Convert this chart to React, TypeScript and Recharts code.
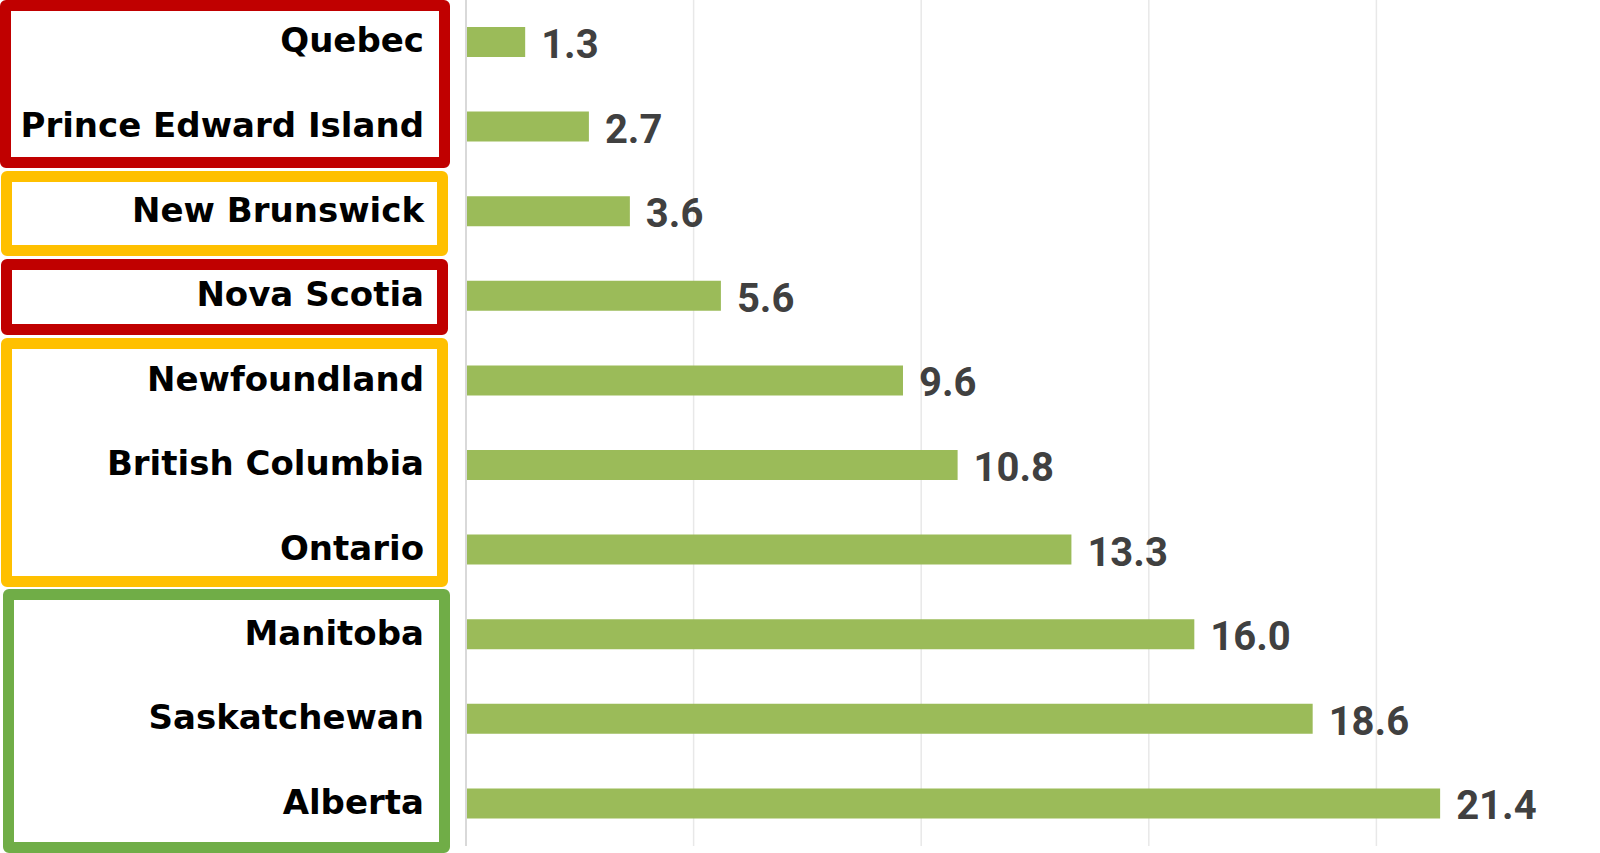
import React from "react";
import { BarChart, Bar, XAxis, YAxis, CartesianGrid, LabelList } from "recharts";

const provinces = [
  "Quebec",
  "Prince Edward Island",
  "New Brunswick",
  "Nova Scotia",
  "Newfoundland",
  "British Columbia",
  "Ontario",
  "Manitoba",
  "Saskatchewan",
  "Alberta",
];
const values = [1.3, 2.7, 3.6, 5.6, 9.6, 10.8, 13.3, 16.0, 18.6, 21.4];
const xTicks = [0, 5, 10, 15, 20, 25];

// Highlight boxes around groups of category labels
const boxColors = ["#C00000", "#FFC000", "#C00000", "#FFC000", "#70AD47"];
const boxTops = [0, 171, 259, 338, 589];
const boxBottoms = [168, 256, 335, 587, 853];
const boxLefts = [0, 1, 1, 1, 3];
const boxRights = [450, 448, 448, 448, 450];

const data = provinces.map((name, i) => ({ name, value: values[i] }));

const CategoryTick = (props: any) => {
  const { x, y, payload } = props;
  return (
    <text
      x={x}
      y={y + 10}
      textAnchor="end"
      fill="#000000"
      fontFamily="DejaVu Sans"
      fontWeight={700}
      fontSize={34}
    >
      {payload.value}
    </text>
  );
};

const ValueLabel = (props: any) => {
  const { x, y, width, height, value } = props;
  return (
    <text
      x={x + width + 16}
      y={y + height / 2 + 16}
      textAnchor="start"
      fill="#404040"
      fontFamily="Roboto"
      fontWeight={700}
      fontSize={40}
    >
      {Number(value).toFixed(1)}
    </text>
  );
};

export default function App() {
  return (
    <div
      style={{
        position: "absolute",
        left: 0,
        top: 0,
        width: 1600,
        height: 853,
        overflow: "hidden",
        background: "#ffffff",
      }}
    >
      <BarChart
        width={1604}
        height={853}
        data={data}
        layout="vertical"
        margin={{ top: 0, right: 0, bottom: 7, left: 0 }}
      >
        <CartesianGrid horizontal={false} stroke="#e8e8e8" strokeWidth={1.5} />
        <XAxis type="number" domain={[0, 25]} ticks={xTicks} hide />
        <YAxis
          type="category"
          dataKey="name"
          width={466}
          tickSize={0}
          tickMargin={42}
          tickLine={false}
          axisLine={{ stroke: "#d9d9d9", strokeWidth: 2 }}
          tick={<CategoryTick />}
          interval={0}
        />
        <Bar dataKey="value" fill="#9BBB59" barSize={30} isAnimationActive={false}>
          <LabelList dataKey="value" content={<ValueLabel />} />
        </Bar>
      </BarChart>
      {boxColors.map((c, i) => (
        <div
          key={i}
          style={{
            position: "absolute",
            left: boxLefts[i],
            top: boxTops[i],
            width: boxRights[i] - boxLefts[i],
            height: boxBottoms[i] - boxTops[i],
            boxSizing: "border-box",
            border: `11px solid ${c}`,
            borderRadius: 6,
            pointerEvents: "none",
          }}
        />
      ))}
    </div>
  );
}
